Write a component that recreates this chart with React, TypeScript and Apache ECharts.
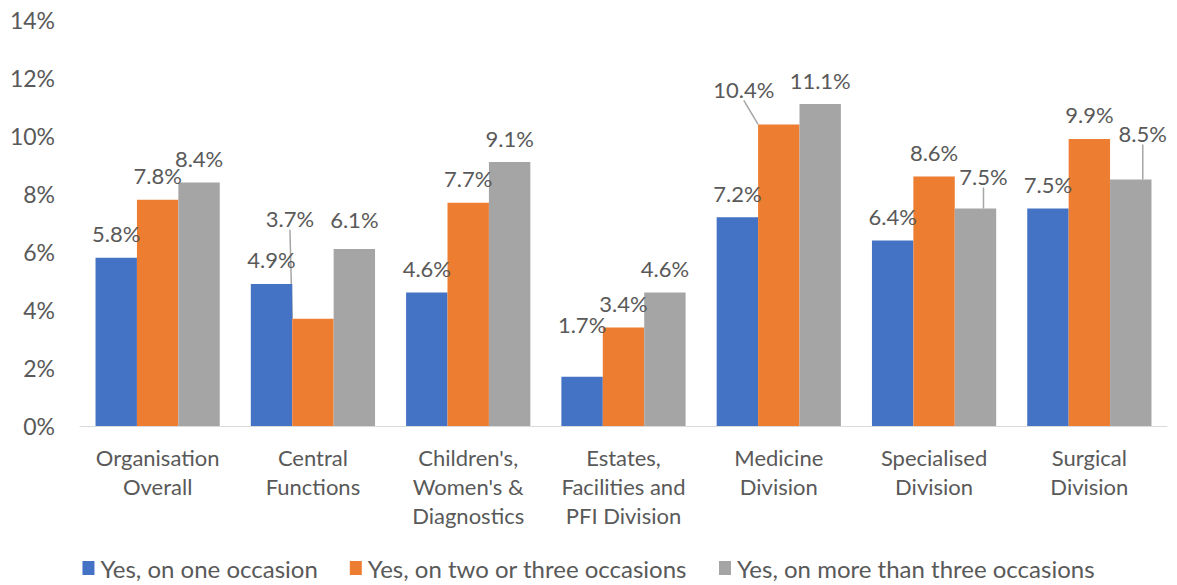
import React, { useEffect, useRef } from "react";
import * as echarts from "echarts";

const categories = [
  "Organisation\nOverall",
  "Central\nFunctions",
  "Children's,\nWomen's &\nDiagnostics",
  "Estates,\nFacilities and\nPFI Division",
  "Medicine\nDivision",
  "Specialised\nDivision",
  "Surgical\nDivision",
];
const seriesNames = [
  "Yes, on one occasion",
  "Yes, on two or three occasions",
  "Yes, on more than three occasions",
];
const oneOccasion = [5.8, 4.9, 4.6, 1.7, 7.2, 6.4, 7.5];
const twoOrThree = [7.8, 3.7, 7.7, 3.4, 10.4, 8.6, 9.9];
const moreThanThree = [8.4, 6.1, 9.1, 4.6, 11.1, 7.5, 8.5];
const yTicks = { min: 0, max: 14, interval: 2 };
const colors = ["#4472C4", "#ED7D31", "#A5A5A5"];

// manual label nudges (series index -> data index -> [dx, dy])
const labelShift: Record<string, [number, number]> = {
  "1-1": [-23, -76],
  "2-1": [0, -6],
  "0-3": [0, -28],
  "1-4": [-35, -11],
  "2-5": [8, -8],
  "2-6": [12, -22],
};
const withLine = new Set(["1-1", "1-4", "2-5", "2-6"]);

const FONT = "Lato";
const TXT = "#595959";

export default function App() {
  const ref = useRef<HTMLDivElement>(null);
  useEffect(() => {
    document.body.style.margin = "0";
    const chart = echarts.init(ref.current!, null, { renderer: "svg" });
    const all = [oneOccasion, twoOrThree, moreThanThree];
    chart.setOption({
      animation: false,
      textStyle: { fontFamily: FONT },
      grid: { left: 80, right: 10, top: 20, bottom: 159 },
      legend: {
        bottom: 0,
        left: "center",
        itemWidth: 12,
        itemHeight: 14,
        itemGap: 32,
        icon: "rect",
        textStyle: { color: TXT, fontSize: 24, fontFamily: FONT, padding: [0, 0, 0, 1] },
      },
      xAxis: {
        type: "category",
        data: categories,
        axisLine: { lineStyle: { color: "#D9D9D9", width: 1 } },
        axisTick: { show: false },
        axisLabel: {
          color: TXT,
          fontSize: 22,
          lineHeight: 29,
          margin: 17,
          interval: 0,
          fontFamily: FONT,
        },
      },
      yAxis: {
        type: "value",
        min: yTicks.min,
        max: yTicks.max,
        interval: yTicks.interval,
        axisLine: { show: false },
        axisTick: { show: false },
        splitLine: { show: false },
        axisLabel: {
          color: TXT,
          fontSize: 23,
          margin: 25,
          formatter: "{value}%",
          fontFamily: FONT,
        },
      },
      series: all.map((vals, si) => ({
        type: "bar",
        name: seriesNames[si],
        barGap: "0%",
        barCategoryGap: "20%",
        itemStyle: { color: colors[si] },
        label: {
          show: true,
          position: "top",
          distance: 13,
          color: TXT,
          fontSize: 22,
          fontFamily: FONT,
          formatter: (p: any) => `${Number(p.value).toFixed(1)}%`,
        },
        labelLine: { show: true, lineStyle: { color: "#A6A6A6", width: 1.5 } },
        labelLayout: (p: any) => {
          const key = `${si}-${p.dataIndex}`;
          const s = labelShift[key];
          if (!s) return {};
          return { dx: s[0], dy: s[1] };
        },
        data: vals.map((v, di) => ({
          value: v,
          labelLine: { show: withLine.has(`${si}-${di}`) },
        })),
      })),
    });
    return () => chart.dispose();
  }, []);
  return <div ref={ref} style={{ width: 1177, height: 585 }} />;
}
